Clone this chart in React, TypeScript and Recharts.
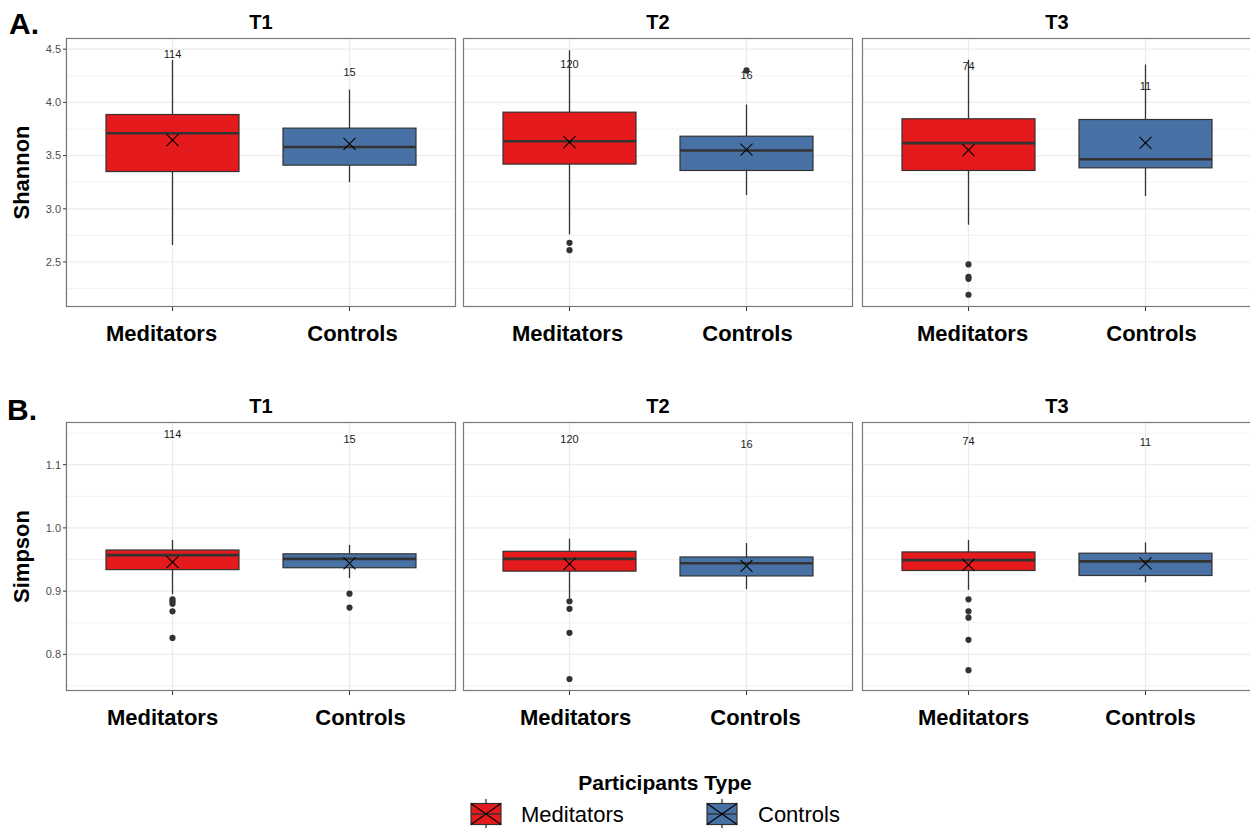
import React from "react"
import { Bar, CartesianGrid, ComposedChart, Line, XAxis, YAxis } from "recharts"

const groups = ["Meditators", "Controls"]
const times = ["T1", "T2", "T3"]
const counts = [
  [114, 15],
  [120, 16],
  [74, 11],
]

// Box statistics, indexed [time][group]
const shannonLow = [
  [2.66, 3.25],
  [2.76, 3.13],
  [2.85, 3.12],
]
const shannonQ1 = [
  [3.35, 3.41],
  [3.42, 3.36],
  [3.36, 3.385],
]
const shannonMedian = [
  [3.71, 3.58],
  [3.635, 3.548],
  [3.617, 3.466],
]
const shannonQ3 = [
  [3.886, 3.758],
  [3.908, 3.682],
  [3.846, 3.839],
]
const shannonHigh = [
  [4.4, 4.12],
  [4.49, 3.98],
  [4.4, 4.356],
]
const shannonMean = [
  [3.645, 3.611],
  [3.626, 3.557],
  [3.551, 3.62],
]
const shannonOutliers = [
  [[], []],
  [[2.68, 2.611], [4.3]],
  [[2.477, 2.361, 2.342, 2.192], []],
]
const shannonCountY = [
  [4.457, 4.29],
  [4.359, 4.253],
  [4.34, 4.152],
]

const simpsonLow = [
  [0.895, 0.9205],
  [0.889, 0.903],
  [0.902, 0.914],
]
const simpsonQ1 = [
  [0.934, 0.937],
  [0.9316, 0.924],
  [0.9326, 0.9247],
]
const simpsonMedian = [
  [0.957, 0.951],
  [0.951, 0.944],
  [0.949, 0.947],
]
const simpsonQ3 = [
  [0.965, 0.959],
  [0.963, 0.954],
  [0.962, 0.96],
]
const simpsonHigh = [
  [0.981, 0.973],
  [0.983, 0.976],
  [0.981, 0.977],
]
const simpsonMean = [
  [0.946, 0.944],
  [0.943, 0.94],
  [0.9415, 0.944],
]
const simpsonOutliers = [
  [[0.887, 0.884, 0.88, 0.868, 0.826], [0.896, 0.874]],
  [[0.884, 0.872, 0.834, 0.761], []],
  [[0.887, 0.868, 0.858, 0.823, 0.775], []],
]
const simpsonCountY = [
  [1.148, 1.14],
  [1.14, 1.133],
  [1.138, 1.136],
]

const shannonTicks = [2.5, 3.0, 3.5, 4.0, 4.5]
const shannonMinor = [2.25, 2.75, 3.25, 3.75, 4.25]
const shannonDomain = [2.077, 4.605]
const simpsonTicks = [0.8, 0.9, 1.0, 1.1]
const simpsonMinor = [0.75, 0.85, 0.95, 1.05, 1.15]
const simpsonDomain = [0.742, 1.1675]

const FILL = ["#E41A1C", "#4872A6"]
const INK = "#333333"
const FONT = "'Liberation Sans', Arial, Helvetica, sans-serif"

const PANEL_W = 390
const PANEL_H = 269
const COL_X = [66, 463, 862]
const ROW_Y = [38, 422]
const Y_AXIS_W = 46
const X_AXIS_H = 50
const MAX_OUT = 5
// horizontal nudge of each category label, [row][time][group]
const LABEL_DX = [
  [[-11, 3], [-2, 1], [4, 6]],
  [[-10, 11], [6, 9], [5, 5]],
]

type Metric = {
  name: string
  low: number[][]
  q1: number[][]
  median: number[][]
  q3: number[][]
  high: number[][]
  mean: number[][]
  outliers: number[][][]
  countY: number[][]
  ticks: number[]
  minor: number[]
  domain: number[]
}

const metrics: Metric[] = [
  {
    name: "Shannon",
    low: shannonLow,
    q1: shannonQ1,
    median: shannonMedian,
    q3: shannonQ3,
    high: shannonHigh,
    mean: shannonMean,
    outliers: shannonOutliers,
    countY: shannonCountY,
    ticks: shannonTicks,
    minor: shannonMinor,
    domain: shannonDomain,
  },
  {
    name: "Simpson",
    low: simpsonLow,
    q1: simpsonQ1,
    median: simpsonMedian,
    q3: simpsonQ3,
    high: simpsonHigh,
    mean: simpsonMean,
    outliers: simpsonOutliers,
    countY: simpsonCountY,
    ticks: simpsonTicks,
    minor: simpsonMinor,
    domain: simpsonDomain,
  },
]

const panelRows = (m: Metric, t: number) =>
  groups.map((g, gi) => {
    const row: Record<string, any> = {
      group: g,
      gi,
      range: [m.low[t][gi], m.high[t][gi]],
      q1: m.q1[t][gi],
      median: m.median[t][gi],
      q3: m.q3[t][gi],
      mean: m.mean[t][gi],
      countY: m.countY[t][gi],
      n: counts[t][gi],
    }
    for (let k = 0; k < MAX_OUT; k++) {
      row[`o${k}`] = m.outliers[t][gi][k] ?? null
    }
    return row
  })

// Whiskers, box and median, placed inside the [low, high] bar the scale gives us
const BoxShape = (props: any) => {
  const { x, y, width, height, payload } = props
  const [lo, hi] = payload.range
  const top = Math.min(y, y + height)
  const bottom = Math.max(y, y + height)
  const py = (v: number) => top + ((hi - v) / (hi - lo)) * (bottom - top)
  const cx = x + width / 2
  const yq3 = py(payload.q3)
  const yq1 = py(payload.q1)
  const ymed = py(payload.median)
  return (
    <g>
      <line x1={cx} x2={cx} y1={top} y2={yq3} stroke={INK} strokeWidth={1.3} />
      <line x1={cx} x2={cx} y1={yq1} y2={bottom} stroke={INK} strokeWidth={1.3} />
      <rect
        x={x}
        y={yq3}
        width={width}
        height={yq1 - yq3}
        fill={FILL[payload.gi]}
        stroke={INK}
        strokeWidth={1.2}
      />
      <line x1={x} x2={x + width} y1={ymed} y2={ymed} stroke={INK} strokeWidth={2.6} />
    </g>
  )
}

const MeanCross = (props: any) => {
  const { cx, cy, index } = props
  if (cy == null || isNaN(cy)) return <g key={`m${index}`} />
  const s = 6
  return (
    <g key={`m${index}`}>
      <line x1={cx - s} x2={cx + s} y1={cy - s} y2={cy + s} stroke="#000" strokeWidth={1.1} />
      <line x1={cx - s} x2={cx + s} y1={cy + s} y2={cy - s} stroke="#000" strokeWidth={1.1} />
    </g>
  )
}

const OutlierDot = (props: any) => {
  const { cx, cy, index, dataKey } = props
  if (cy == null || isNaN(cy) || props.value == null)
    return <g key={`${dataKey}-${index}`} />
  return <circle key={`${dataKey}-${index}`} cx={cx} cy={cy} r={3.1} fill={INK} />
}

const Panel = ({ m, r, t }: { m: Metric; r: number; t: number }) => {
  const data = panelRows(m, t)
  const first = t === 0
  const w = PANEL_W + (first ? Y_AXIS_W : 0)
  const GroupTick = (p: any) => (
    <text
      x={p.x + LABEL_DX[r][t][p.index]}
      y={p.y}
      dy="0.71em"
      textAnchor="middle"
      fill="#000"
      fontSize={22}
      fontWeight={700}
      fontFamily={FONT}
    >
      {p.payload.value}
    </text>
  )
  return (
    <ComposedChart
      width={w}
      height={PANEL_H + X_AXIS_H}
      data={data}
      margin={{ top: 0, right: 0, bottom: 0, left: 0 }}
    >
      <CartesianGrid
        horizontalValues={m.minor}
        vertical={false}
        stroke="#efefef"
        strokeWidth={0.8}
      />
      <CartesianGrid horizontalValues={m.ticks} stroke="#ebebeb" strokeWidth={1.2} />
      <XAxis
        dataKey="group"
        type="category"
        padding={{ left: 18, right: 18 }}
        height={X_AXIS_H}
        axisLine={false}
        tickSize={4}
        tickMargin={14}
        tickLine={{ stroke: INK }}
        interval={0}
        tick={GroupTick}
      />
      <YAxis
        type="number"
        domain={m.domain}
        ticks={m.ticks}
        allowDataOverflow
        hide={!first}
        width={Y_AXIS_W}
        axisLine={false}
        tickSize={3}
        tickMargin={2}
        tickLine={{ stroke: INK }}
        tickFormatter={(v: number) => v.toFixed(1)}
        tick={{ fill: "#4d4d4d", fontSize: 11, fontFamily: FONT }}
      />
      <Bar dataKey="range" barSize={133} shape={BoxShape} isAnimationActive={false} />
      {Array.from({ length: MAX_OUT }, (_, k) => (
        <Line
          key={k}
          dataKey={`o${k}`}
          stroke="none"
          dot={OutlierDot}
          activeDot={false}
          isAnimationActive={false}
        />
      ))}
      <Line
        dataKey="mean"
        stroke="none"
        dot={MeanCross}
        activeDot={false}
        isAnimationActive={false}
      />
      <Line
        dataKey="countY"
        stroke="none"
        dot={false}
        activeDot={false}
        isAnimationActive={false}
        label={(p: any) => (
          <text
            key={`n${p.index}`}
            x={p.x}
            y={p.y}
            dy={4}
            textAnchor="middle"
            fontSize={11}
            fontFamily={FONT}
            fill="#1a1a1a"
          >
            {data[p.index]?.n}
          </text>
        )}
      />
    </ComposedChart>
  )
}

const LegendKey = ({ x, fill }: { x: number; fill: string }) => (
  <g>
    <line x1={x + 15} x2={x + 15} y1={799} y2={828} stroke={INK} strokeWidth={1.3} />
    <rect x={x} y={803.5} width={30} height={21} fill={fill} stroke={INK} strokeWidth={1.2} />
    <line x1={x} x2={x + 30} y1={814} y2={814} stroke={INK} strokeWidth={1.4} />
    <line x1={x} x2={x + 30} y1={803.5} y2={824.5} stroke="#000" strokeWidth={1.1} />
    <line x1={x} x2={x + 30} y1={824.5} y2={803.5} stroke="#000" strokeWidth={1.1} />
  </g>
)

export default function App() {
  return (
    <div
      style={{
        position: "absolute",
        left: 0,
        top: 0,
        width: 1250,
        height: 829,
        overflow: "hidden",
        background: "#fff",
        fontFamily: FONT,
      }}
    >
      {metrics.map((m, r) =>
        times.map((_, t) => (
          <div
            key={`${r}-${t}`}
            style={{
              position: "absolute",
              left: COL_X[t] - (t === 0 ? Y_AXIS_W : 0),
              top: ROW_Y[r],
            }}
          >
            <Panel m={m} r={r} t={t} />
          </div>
        ))
      )}
      <svg
        width={1250}
        height={829}
        style={{ position: "absolute", left: 0, top: 0, pointerEvents: "none" }}
        fontFamily={FONT}
      >
        {ROW_Y.map((py, r) =>
          COL_X.map((px, t) => (
            <g key={`b${r}${t}`}>
              <rect
                x={px + 0.5}
                y={py + 0.5}
                width={PANEL_W - 1}
                height={PANEL_H - 1}
                fill="none"
                stroke="#7a7a7a"
                strokeWidth={1.2}
              />
              <text
                x={px + PANEL_W / 2}
                y={py - 9}
                textAnchor="middle"
                fontSize={20}
                fontWeight={700}
              >
                {times[t]}
              </text>
            </g>
          ))
        )}
        <text x={9} y={34} fontSize={30} fontWeight={700}>
          A.
        </text>
        <text x={7} y={420} fontSize={30} fontWeight={700}>
          B.
        </text>
        {metrics.map((m, r) => (
          <text
            key={m.name}
            transform={`translate(29, ${ROW_Y[r] + PANEL_H / 2}) rotate(-90)`}
            textAnchor="middle"
            fontSize={22}
            fontWeight={700}
          >
            {m.name}
          </text>
        ))}
        <text x={665} y={789.5} textAnchor="middle" fontSize={21} fontWeight={700}>
          Participants Type
        </text>
        <LegendKey x={471} fill={FILL[0]} />
        <text x={521} y={821.5} fontSize={22}>
          {groups[0]}
        </text>
        <LegendKey x={707} fill={FILL[1]} />
        <text x={758} y={821.5} fontSize={22}>
          {groups[1]}
        </text>
      </svg>
    </div>
  )
}
